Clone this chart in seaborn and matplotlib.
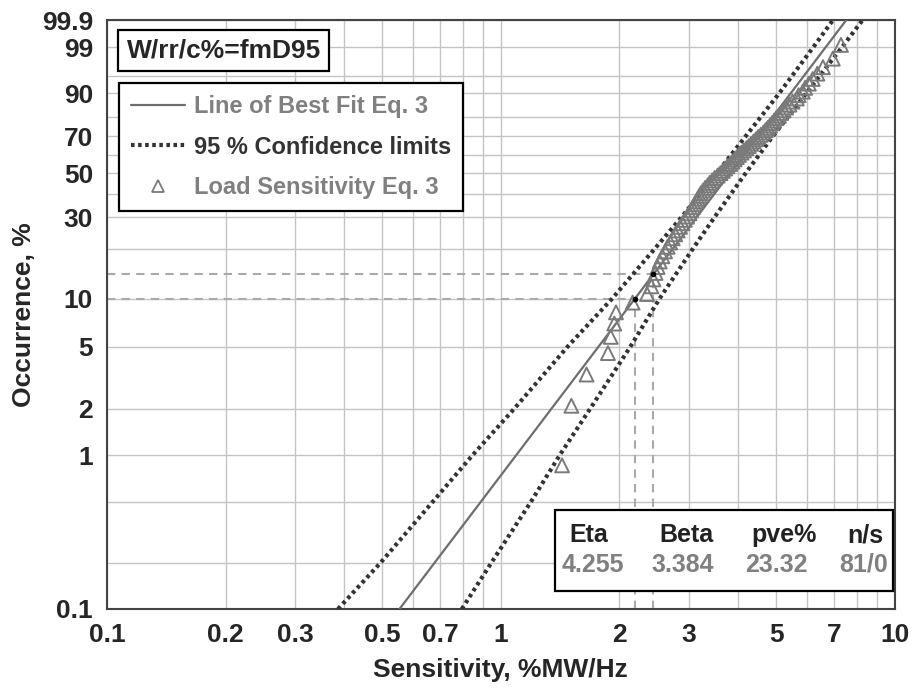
import numpy as np
import pandas as pd
import matplotlib
matplotlib.use('Agg')
import matplotlib.pyplot as plt
import seaborn as sns
from matplotlib.lines import Line2D
from matplotlib.patches import Rectangle
from matplotlib.ticker import FixedLocator, FixedFormatter, NullFormatter

# Load sensitivity samples (x) and median-rank occurrence (%), 81 failures, 0 suspensions
sensitivity = [1.43, 1.51, 1.65, 1.87, 1.90, 1.94, 1.96, 2.16, 2.35, 2.41,
               2.44, 2.47, 2.50, 2.53, 2.57, 2.61, 2.65, 2.69, 2.73, 2.77,
               2.81, 2.85, 2.89, 2.93, 2.97, 3.01, 3.04, 3.07, 3.10, 3.13,
               3.16, 3.19, 3.22, 3.26, 3.30, 3.35, 3.39, 3.44, 3.49, 3.55,
               3.61, 3.66, 3.71, 3.76, 3.82, 3.87, 3.92, 3.97, 4.02, 4.08,
               4.14, 4.20, 4.26, 4.32, 4.38, 4.44, 4.50, 4.57, 4.64, 4.70,
               4.76, 4.82, 4.88, 4.94, 5.00, 5.08, 5.15, 5.22, 5.30, 5.40,
               5.50, 5.64, 5.70, 5.84, 5.92, 6.05, 6.19, 6.36, 6.57, 6.96,
               7.30]
occurrence = [0.86, 2.09, 3.32, 4.55, 5.77, 7.00, 8.23, 9.46, 10.69, 11.92,
              13.14, 14.37, 15.60, 16.83, 18.06, 19.29, 20.52, 21.74, 22.97, 24.20,
              25.43, 26.66, 27.89, 29.12, 30.34, 31.57, 32.80, 34.03, 35.26, 36.49,
              37.71, 38.94, 40.17, 41.40, 42.63, 43.86, 45.09, 46.31, 47.54, 48.77,
              50.00, 51.23, 52.46, 53.69, 54.91, 56.14, 57.37, 58.60, 59.83, 61.06,
              62.29, 63.51, 64.74, 65.97, 67.20, 68.43, 69.66, 70.88, 72.11, 73.34,
              74.57, 75.80, 77.03, 78.26, 79.48, 80.71, 81.94, 83.17, 84.40, 85.63,
              86.86, 88.08, 89.31, 90.54, 91.77, 93.00, 94.23, 95.45, 96.68, 97.91,
              99.14]

# Line of best fit (two ends) and 95 % confidence limits
fit_x = [0.553, 7.53]
fit_f = [0.1, 99.9]
conf_f = [0.1, 0.2, 0.5, 1, 2, 5, 10, 20, 30, 50, 70, 90, 99, 99.9]
conf_lower_x = [0.386, 0.495, 0.672, 0.847, 1.081, 1.477, 1.915, 2.458, 2.870,
                3.532, 4.179, 5.090, 6.213, 6.967]
conf_upper_x = [0.796, 0.946, 1.193, 1.410, 1.685, 2.132, 2.527, 3.072, 3.482,
                4.181, 4.898, 5.961, 7.349, 8.285]

# Reference points marked with dashed lines
ref_x = [2.188, 2.44]
ref_f = [10.0, 14.2]

# Tick labels
x_ticks = [0.1, 0.2, 0.3, 0.5, 0.7, 1, 2, 3, 5, 7, 10]
x_ticklabels = ['0.1', '0.2', '0.3', '0.5', '0.7', '1', '2', '3', '5', '7', '10']
x_minor = [0.4, 0.6, 0.8, 0.9, 4, 6, 8, 9]
y_ticks = [0.1, 1, 2, 5, 10, 30, 50, 70, 90, 99, 99.9]
y_ticklabels = ['0.1', '1', '2', '5', '10', '30', '50', '70', '90', '99', '99.9']
y_minor = [0.2, 0.5, 20, 40, 60, 80, 95]

table_head = ['Eta', 'Beta', 'pve%', 'n/s']
table_vals = ['4.255', '3.384', '23.32', '81/0']

sns.set_style('white')
plt.rcParams['font.family'] = ['Liberation Sans', 'DejaVu Sans']
plt.rcParams['font.weight'] = 'bold'


def weib(p):
    p = np.clip(np.asarray(p, dtype=float), 1e-6, 99.99999)
    return np.log(-np.log(1 - p / 100.0))


def weib_inv(w):
    return 100.0 * (1 - np.exp(-np.exp(np.asarray(w, dtype=float))))


fig = plt.figure(figsize=(9.14, 6.91), dpi=100)
ax = fig.add_axes([0.117, 0.1187, 0.862, 0.8523])

ax.set_xscale('log')
ax.set_yscale('function', functions=(weib, weib_inv))
ax.set_xlim(0.1, 10)
ax.set_ylim(0.1, 99.9)

grid_c = '#c4c4c4'
ax.xaxis.set_major_locator(FixedLocator(x_ticks))
ax.xaxis.set_major_formatter(FixedFormatter(x_ticklabels))
ax.xaxis.set_minor_locator(FixedLocator(x_minor))
ax.xaxis.set_minor_formatter(NullFormatter())
ax.yaxis.set_major_locator(FixedLocator(y_ticks))
ax.yaxis.set_major_formatter(FixedFormatter(y_ticklabels))
ax.yaxis.set_minor_locator(FixedLocator(y_minor))
ax.yaxis.set_minor_formatter(NullFormatter())
ax.grid(True, which='both', color=grid_c, linewidth=1.0)
ax.set_axisbelow(True)
ax.tick_params(which='both', direction='out', length=4, width=1, color=grid_c,
               labelsize=19, pad=6)
for s in ax.spines.values():
    s.set_color('#444444')
    s.set_linewidth(1.5)

# Confidence limits
conf_df = pd.DataFrame({'f': conf_f, 'lo': conf_lower_x, 'hi': conf_upper_x})
dots = (0, (0.85, 0.85))
sns.lineplot(data=conf_df, x='lo', y='f', sort=False, estimator=None, ax=ax,
             color='#333333', linewidth=3.0, linestyle=dots, zorder=4)
sns.lineplot(data=conf_df, x='hi', y='f', sort=False, estimator=None, ax=ax,
             color='#333333', linewidth=3.0, linestyle=dots, zorder=4)

# Line of best fit
fit_df = pd.DataFrame({'x': fit_x, 'f': fit_f})
sns.lineplot(data=fit_df, x='x', y='f', sort=False, estimator=None, ax=ax,
             color='#6e6e6e', linewidth=1.6, zorder=3)

# Data points
pts = pd.DataFrame({'x': sensitivity, 'f': occurrence})
sns.scatterplot(data=pts, x='x', y='f', ax=ax, marker='^', s=100,
                facecolors='none', edgecolor='#7a7a7a', linewidth=1.4, zorder=5)

# Dashed reference lines
for rx, rf in zip(ref_x, ref_f):
    ax.plot([0.1, rx], [rf, rf], color='#aaaaaa', linestyle=(0, (4, 3)), linewidth=1.5, zorder=2)
    ax.plot([rx, rx], [0.1, rf], color='#aaaaaa', linestyle=(0, (4, 3)), linewidth=1.5, zorder=2)
    ax.plot([rx], [rf], marker='o', markersize=3, color='black', zorder=6)

ax.set_xlabel('Sensitivity, %MW/Hz', fontsize=19, fontweight='bold', labelpad=8)
ax.set_ylabel('Occurrence, %', fontsize=19, fontweight='bold', labelpad=4)

# Method box
ax.text(0.025, 0.949, 'W/rr/c%=fmD95', transform=ax.transAxes, fontsize=19,
        fontweight='bold', ha='left', va='center', zorder=7,
        bbox=dict(boxstyle='square,pad=0.32', facecolor='white', edgecolor='black', linewidth=1.6))

# Legend
handles = [Line2D([], [], color='#6e6e6e', linewidth=1.6),
           Line2D([], [], color='#333333', linewidth=3.0, linestyle=dots),
           Line2D([], [], linestyle='none', marker='^', markersize=9,
                  markerfacecolor='none', markeredgecolor='#7a7a7a', markeredgewidth=1.3)]
labels = ['Line of Best Fit Eq. 3', '95 % Confidence limits', 'Load Sensitivity Eq. 3']
leg = ax.legend(handles, labels, loc='upper left', bbox_to_anchor=(0.015, 0.893),
                borderaxespad=0, fontsize=17, frameon=True, fancybox=False,
                edgecolor='black', framealpha=1, handlelength=2.3, labelspacing=0.75,
                borderpad=0.5, handletextpad=0.4)
leg.get_frame().set_linewidth(1.6)
leg.set_zorder(8)
for txt, c in zip(leg.get_texts(), ['#808080', '#333333', '#808080']):
    txt.set_color(c)
    txt.set_fontweight('bold')

# Parameter table
ax.add_patch(Rectangle((0.5685, 0.0306), 0.429, 0.1375, transform=ax.transAxes,
                       facecolor='white', edgecolor='black', linewidth=1.6, zorder=7))
head_x = [0.612, 0.735, 0.859, 0.962]
val_x = [0.617, 0.731, 0.850, 0.960]
for hx, h in zip(head_x, table_head):
    ax.text(hx, 0.1256, h, transform=ax.transAxes, ha='center', va='center',
            fontsize=18, fontweight='bold', color='#222222', zorder=8)
for vx, v in zip(val_x, table_vals):
    ax.text(vx, 0.0747, v, transform=ax.transAxes, ha='center', va='center',
            fontsize=18, fontweight='bold', color='#808080', zorder=8)

fig.savefig('out.png', dpi=100)
